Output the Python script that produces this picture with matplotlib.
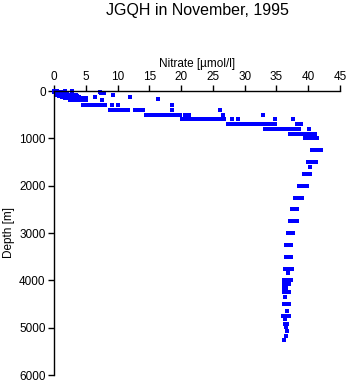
import matplotlib
matplotlib.use('Agg')
import matplotlib.pyplot as plt

plt.rcParams['font.family'] = ['Liberation Sans', 'DejaVu Sans']

# sample depths [m] and nitrate values [umol/l] read at each depth
depths = [0, 10, 20, 30, 50, 75, 100, 125, 150, 175, 200, 300, 400, 500, 600,
          700, 800, 900, 950, 1000, 1250, 1500, 1600, 1750, 2000, 2250, 2500,
          2750, 3000, 3250, 3500, 3750, 3850, 4000, 4080, 4160, 4250, 4350,
          4500, 4650, 4750, 4820, 4920, 4990, 5060, 5170, 5260]
nitrate = [
    [0.0, 0.1, 0.2, 1.8],
    [0.0, 0.2, 0.4, 2.9],
    [0.0, 0.3, 0.6, 1.0],
    [0.2, 0.5, 0.9, 1.3, 7.2],
    [0.3, 0.8, 1.2, 1.7, 2.1, 7.4, 7.9],
    [0.5, 1.0, 1.5, 2.0, 2.5, 3.0, 3.4, 9.3],
    [0.8, 1.3, 1.7, 2.2, 2.6, 3.1, 3.6],
    [1.2, 1.6, 2.0, 2.5, 2.9, 3.4, 3.9, 6.5, 12.0],
    [1.8, 2.3, 2.7, 3.2, 3.6, 4.1, 4.5, 5.0],
    [16.3],
    [2.5, 3.0, 3.4, 3.8, 4.3, 4.7, 5.1, 7.5],
    [4.5, 4.9, 5.5, 5.9, 6.3, 6.7, 7.1, 7.5, 8.0, 9.1, 10.1, 18.6],
    [8.8, 9.2, 9.6, 10.0, 10.4, 10.8, 11.2, 11.7, 12.7, 13.1, 13.5, 14.0,
     18.6, 26.1],
    [14.5, 14.9, 15.3, 15.7, 16.1, 16.5, 16.9, 17.3, 17.7, 18.1, 18.7, 19.1,
     19.5, 19.8, 20.6, 21.0, 21.3, 26.6, 32.9],
    [20.2, 20.6, 21.0, 21.4, 21.9, 22.3, 22.7, 23.1, 23.5, 23.9, 24.4, 24.8,
     25.2, 25.6, 26.1, 26.8, 28.0, 28.9, 34.8, 37.6],
    [27.4, 27.8, 28.2, 28.6, 29.0, 29.3, 29.7, 30.1, 30.5, 30.9, 31.3, 31.7,
     32.1, 32.5, 32.9, 33.3, 33.9, 34.3, 34.8, 38.2, 38.9],
    [33.2, 33.6, 34.0, 34.4, 34.8, 35.2, 35.6, 36.0, 36.4, 37.0, 37.3, 37.7,
     38.1, 38.6, 40.2],
    [37.1, 37.5, 37.9, 38.3, 38.7, 39.1, 39.5, 39.9, 40.3, 40.7, 41.1],
    [40.5],
    [39.5, 39.9, 40.3, 40.7, 41.0, 41.4],
    [40.6, 41.0, 41.3, 41.6, 42.0],
    [40.0, 40.4, 40.8, 41.3],
    [40.3],
    [39.3, 39.7, 40.1, 40.3],
    [38.5, 38.9, 39.3, 39.8],
    [37.9, 38.3, 38.7, 39.0],
    [37.5, 37.9, 38.3],
    [37.1, 37.5, 37.9, 38.2],
    [36.8, 37.2, 37.6],
    [36.5, 36.9, 37.3],
    [36.5, 36.9, 37.3],
    [36.3, 36.7, 37.1, 37.4],
    [36.8],
    [36.2, 36.6, 37.0, 37.3],
    [36.2, 36.6, 37.0],
    [36.2, 36.5],
    [36.2, 36.6, 37.0],
    [36.4],
    [36.2, 36.6, 37.0],
    [36.6],
    [36.1, 36.5, 36.9, 37.0],
    [36.4],
    [36.4, 36.6],
    [36.5],
    [36.6],
    [36.5],
    [36.2],
]

fig = plt.figure(figsize=(3.48, 3.84), dpi=100)
ax = fig.add_axes([54/348, 1 - 375/384, 286/348, 284/384])

for d, vals in zip(depths, nitrate):
    ax.plot(vals, [d]*len(vals), 's', color='#0000ff', ms=2.2, mew=0,
            clip_on=False, antialiased=False)

ax.set_xlim(0, 45)
ax.set_ylim(6000, 0)
ax.set_xticks(range(0, 46, 5))
ax.set_yticks(range(0, 6001, 1000))

ax.xaxis.tick_top()
ax.xaxis.set_label_position('top')
ax.spines['right'].set_visible(False)
ax.spines['bottom'].set_visible(False)
for s in ['top', 'left']:
    ax.spines[s].set_linewidth(1.0)
ax.tick_params(direction='out', length=4, width=1.0, labelsize=8.5, pad=2)

ax.set_xlabel('Nitrate [\u00b5mol/l]', fontsize=8.5, labelpad=3)
ax.set_ylabel('Depth [m]', fontsize=8.5, labelpad=3)

fig.text(197/348, 1 - 11/384, 'JGQH in November, 1995', ha='center',
         va='center', fontsize=11.5)

plt.savefig('out.png', dpi=100)
